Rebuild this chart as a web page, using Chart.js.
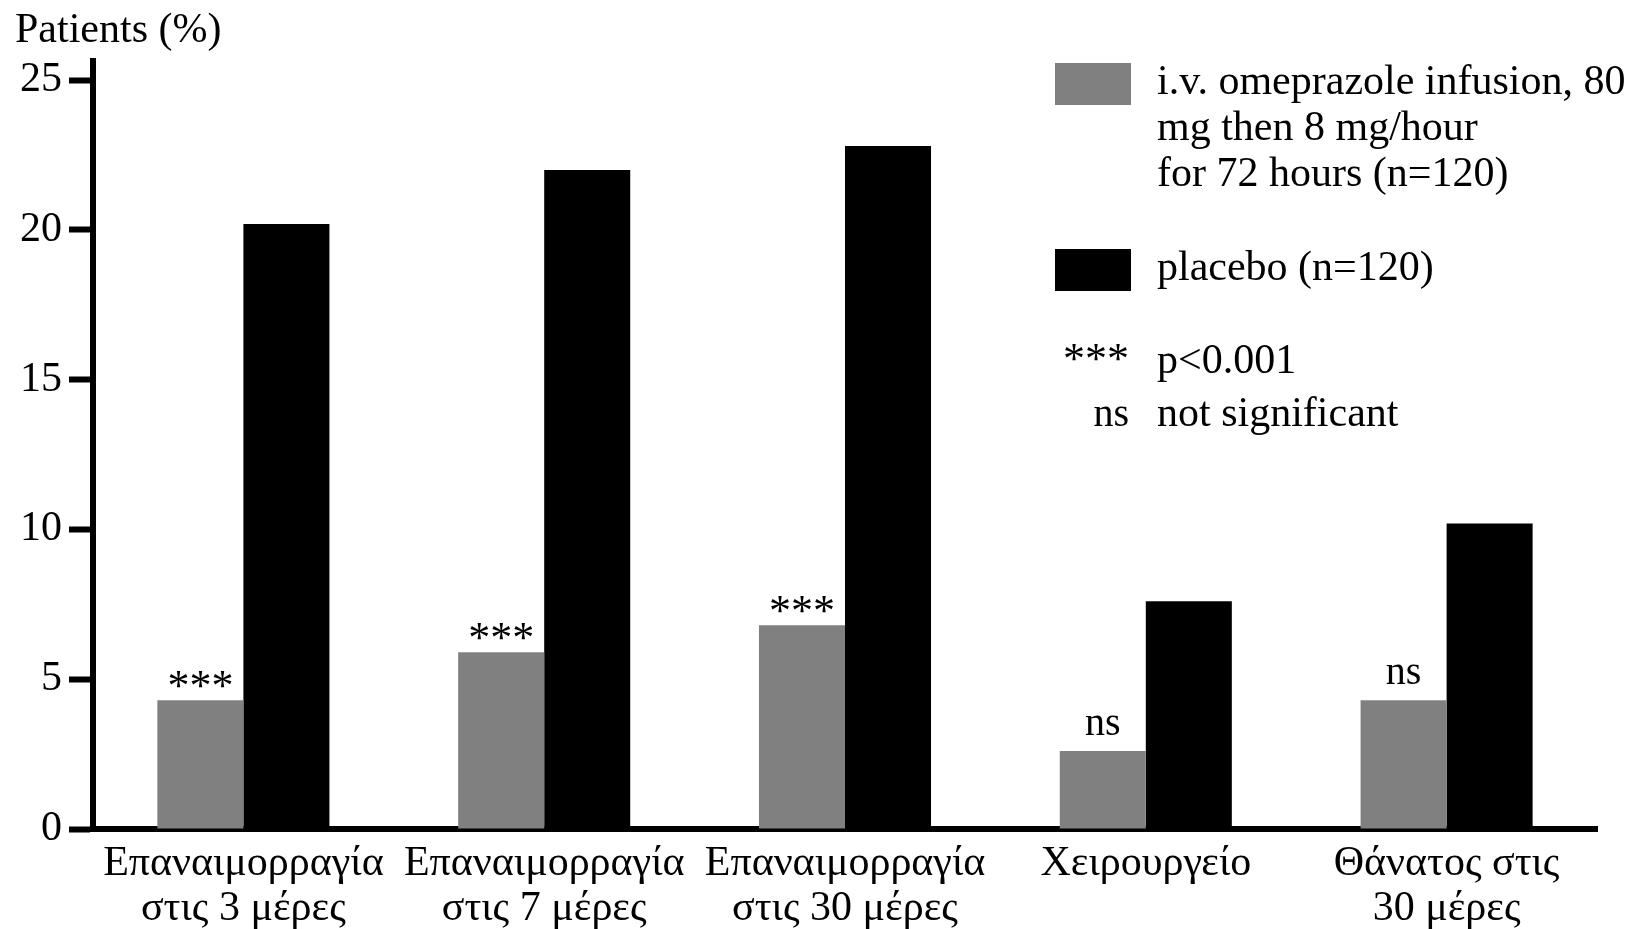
<!DOCTYPE html>
<html>
<head>
<meta charset="utf-8">
<script src="https://cdn.jsdelivr.net/npm/chart.js@4.4.1/dist/chart.umd.min.js"></script>
<style>
  html, body { margin: 0; padding: 0; background: #fff; }
  canvas { display: block; }
</style>
</head>
<body>
<canvas id="c" width="1638" height="929"></canvas>
<script>
// ---- data ----
const categories = [
  ["Επαναιμορραγία", "στις 3 μέρες"],
  ["Επαναιμορραγία", "στις 7 μέρες"],
  ["Επαναιμορραγία", "στις 30 μέρες"],
  ["Χειρουργείο"],
  ["Θάνατος στις", "30 μέρες"]
];
const omeprazole = [4.3, 5.9, 6.8, 2.6, 4.3];
const placebo = [20.2, 22.0, 22.8, 7.6, 10.2];
const significance = ["***", "***", "***", "ns", "ns"];
const yTicks = [0, 5, 10, 15, 20, 25];
const yTitle = "Patients (%)";
const omeprazoleLegend = ["i.v. omeprazole infusion, 80", "mg then 8 mg/hour", "for 72 hours (n=120)"];
const placeboLegend = ["placebo (n=120)"];
const keyMarks = ["***", "ns"];
const keyTexts = ["p<0.001", "not significant"];

// ---- style ----
const FONT = '"Liberation Serif", "Times New Roman", Times, serif';
const GRAY = '#808080';
const BLACK = '#000000';

const extras = {
  id: 'extras',
  afterDatasetsDraw(chart) {
    const ctx = chart.ctx;
    const meta = chart.getDatasetMeta(0);
    ctx.save();
    ctx.fillStyle = BLACK;
    ctx.textAlign = 'center';
    ctx.textBaseline = 'alphabetic';
    meta.data.forEach((bar, i) => {
      const s = significance[i];
      const isNs = s === 'ns';
      ctx.font = (isNs ? '40px ' : '44px ') + FONT;
      ctx.fillText(s, bar.x, bar.y - (isNs ? 16 : 0));
    });
    ctx.restore();
  },
  afterDraw(chart) {
    const ctx = chart.ctx;
    ctx.save();
    ctx.fillStyle = BLACK;
    ctx.textBaseline = 'alphabetic';
    // axis title
    ctx.font = '42px ' + FONT;
    ctx.textAlign = 'left';
    ctx.fillText(yTitle, 15, 42);
    // legend
    const boxX = 1055, boxW = 76, boxH = 42, textX = 1157, lh = 46;
    ctx.fillStyle = GRAY;
    ctx.fillRect(boxX, 63, boxW, boxH);
    ctx.fillStyle = BLACK;
    ctx.fillRect(boxX, 249, boxW, boxH);
    ctx.font = '42px ' + FONT;
    omeprazoleLegend.forEach((t, i) => ctx.fillText(t, textX, 94 + i * lh));
    placeboLegend.forEach((t, i) => ctx.fillText(t, textX, 280 + i * lh));
    keyTexts.forEach((t, i) => ctx.fillText(t, textX, 373 + i * 53));
    ctx.textAlign = 'right';
    keyMarks.forEach((t, i) => {
      ctx.font = (t === 'ns' ? '40px ' : '44px ') + FONT;
      ctx.fillText(t, 1129, 373 + i * 53);
    });
    ctx.restore();
  }
};

new Chart(document.getElementById('c'), {
  type: 'bar',
  data: {
    labels: categories,
    datasets: [
      { label: omeprazoleLegend.join(' '), data: omeprazole, backgroundColor: GRAY,
        categoryPercentage: 0.572, barPercentage: 1.0, borderWidth: 0 },
      { label: placeboLegend[0], data: placebo, backgroundColor: BLACK,
        categoryPercentage: 0.572, barPercentage: 1.0, borderWidth: 0 }
    ]
  },
  options: {
    responsive: false,
    devicePixelRatio: 1,
    animation: false,
    layout: { padding: { left: 13, right: 41, top: 61, bottom: -14 } },
    plugins: {
      legend: { display: false },
      tooltip: { enabled: false },
      title: { display: false }
    },
    scales: {
      x: {
        z: 1,
        ticks: {
          color: BLACK,
          font: { family: FONT, size: 42, lineHeight: 45 / 42 },
          padding: 12,
          maxRotation: 0,
          minRotation: 0,
          autoSkip: false
        },
        grid: { display: false, drawTicks: false },
        border: { display: true, width: 6, color: BLACK }
      },
      y: {
        z: 1,
        min: 0,
        max: 25.64,
        afterBuildTicks: (scale) => { scale.ticks = yTicks.map(v => ({ value: v })); },
        ticks: {
          color: BLACK,
          font: { family: FONT, size: 42 },
          padding: 7
        },
        grid: {
          drawOnChartArea: false,
          drawTicks: true,
          tickLength: 24,
          tickWidth: 6,
          tickColor: BLACK,
          color: BLACK
        },
        border: { display: true, width: 6, color: BLACK }
      }
    }
  },
  plugins: [extras]
});
</script>
</body>
</html>
